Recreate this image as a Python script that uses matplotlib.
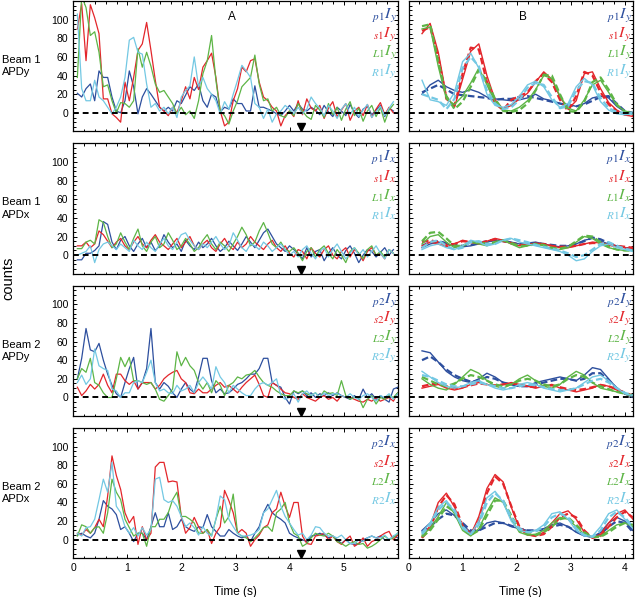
import numpy as np
import matplotlib
matplotlib.use("Agg")
import matplotlib.pyplot as plt
from matplotlib.ticker import MultipleLocator

plt.rcParams['font.family'] = ['Liberation Sans', 'DejaVu Sans']
plt.rcParams['mathtext.fontset'] = 'stix'

########### DATA
row_names = ["Beam 1\nAPDy", "Beam 1\nAPDx", "Beam 2\nAPDy", "Beam 2\nAPDx"]
legend_names = [
    [r"$_{p1}I_y$", r"$_{s1}I_y$", r"$_{L1}I_y$", r"$_{R1}I_y$"],
    [r"$_{p1}I_x$", r"$_{s1}I_x$", r"$_{L1}I_x$", r"$_{R1}I_x$"],
    [r"$_{p2}I_y$", r"$_{s2}I_y$", r"$_{L2}I_y$", r"$_{R2}I_y$"],
    [r"$_{p2}I_x$", r"$_{s2}I_x$", r"$_{L2}I_x$", r"$_{R2}I_x$"],
]
marker_time = 4.2
a_ticks = [0, 1, 2, 3, 4, 5]
b_ticks = [0, 1, 2, 3, 4]
y_ticks = [0, 20, 40, 60, 80, 100]

# panel A, raw traces (one sample every 0.08 s)
a_t0 = 0.075
a_dt = 0.08

a1_blue = [21, 17, 26, 31, 13, 45, 38, 38, 17, 2, 0, 13, 45, 28, -1, 17, 26, 20, 13, 6, 2, 6, 2, 13, 10,
           19, 28, 24, 31, 13, 6, 20, 17, 1, 6, 4, 15, 10, 10, 2, 2, 29, 6, 6, 4, 2, -1, -3, 2, 8, 2, 10,
           4, 2, 6, 3, -2, 8, 1, -4, 6, 2, -3, 9, 0, -5, 4, 7, -2, 3, 8, -4, 5, 2]
a1_red = [90, 117, 56, 116, 102, 85, 15, 15, -1, -5, -10, 33, 13, 38, 67, 74, 97, 67, 35, 6, 2, -3, 6, 0,
          13, 28, 15, 38, 25, 49, 56, 64, 38, 2, -14, -10, 13, 26, 49, 44, 56, 58, 33, 17, 13, 6, 2, -14,
          -3, 2, -4, 13, -2, 15, 5, 2, 8, -6, 5, 12, -4, 3, 10, -8, 2, 6, -3, 9, -5, 4, 11, -2, 6, 0]
a1_green = [38, 125, 113, 83, 87, 65, 28, 30, 13, 0, 11, 10, 6, 13, 69, 49, 65, 50, 31, 22, 24, 17, 10, -1,
            6, -2, 2, -6, 13, 42, 56, 83, 35, 2, -3, -12, 2, 13, 28, 33, 38, 62, 31, 13, 15, 2, 6, -3, -5,
            2, -3, 10, 2, -4, -7, 8, 3, -5, 10, -2, 6, -8, 4, 12, -3, 5, -9, 2, 8, -4, 6, -10, 3, 9]
a1_cyan = [106, 26, 13, 13, 35, 17, 13, 6, -1, 6, 17, 38, 78, 81, 65, 63, 31, 6, 10, 2, 6, -1, 6, -5, 17,
           24, 29, 60, 28, 38, 26, 20, 13, -1, 12, 4, 20, 35, 51, 45, 38, 10, 6, -6, 4, -10, -1, 2, 8, 4,
           -1, 6, -1, 4, 17, 10, 5, -3, 8, 2, -6, 4, 10, -2, 6, -4, 3, 9, -5, 1, 7, -3, 5, 12]

a2_blue = [-5, -5, 2, 2, 5, 10, 36, 33, 14, 6, 16, 20, 10, 4, 12, 18, 8, 14, 5, 10, 22, 14, 8, 12, 4, 16,
           10, 6, 14, 8, 12, 18, 10, 4, 8, 15, 10, 5, 12, 20, 14, 8, 16, 24, 28, 20, 12, 8, 4, 10, 6, 2,
           -4, 8, -2, 4, 6, -6, 2, 8, 0, -4, 5, 10, 2, -8, 0, 6, 4, -2, 3, 8, 0, 6]
a2_red = [10, 10, 14, 8, 12, 26, 22, 15, 8, 14, 18, 10, 6, 14, 20, 12, 8, 16, 22, 14, 10, 6, 12, 18, 8, 14,
          20, 10, 6, 12, 16, 8, 4, 12, 18, 10, 6, 14, 8, 12, 20, 14, 10, 6, 12, 16, 8, 4, 10, 2, -2, 6, 4,
          -4, 8, 2, -2, 6, 10, 0, -4, 4, 8, -2, 6, 2, -6, 4, 8, 0, 2, -4, 6, 2]
a2_green = [7, 7, 14, 16, 12, 38, 35, 20, 8, 12, 24, 14, 6, 18, 28, 10, 4, 14, 20, 8, 12, 24, 16, 6, 10, 18,
            12, 4, 8, 16, 22, 12, 6, 14, 10, 4, 12, 20, 30, 22, 10, 14, 26, 35, 24, 12, 8, 14, 6, 4, 8, 2,
            -6, 4, 8, -2, 6, 10, 2, -4, 6, 0, -8, 4, 8, 2, -4, 6, 10, 0, 4, -2, 6, 2]
a2_cyan = [0, 2, 4, 10, -8, 6, 12, 14, 10, 6, 12, 8, 4, 16, 10, 6, 14, 8, 4, 12, 18, 10, 6, 14, 22, 24, 16,
           10, 6, 12, 8, 14, 20, 12, 6, 10, 24, 16, 8, 4, 12, 10, 6, 14, 10, 4, 8, 12, 6, 0, 4, -2, 6, 10,
           2, -4, 4, 8, -2, 6, 12, 4, -4, 2, 8, 0, 6, -2, 4, 10, 2, -4, 6, 2]

a3_blue = [20, 42, 74, 51, 49, 58, 40, 25, 13, 4, 0, 16, 31, 43, 9, 16, 31, 74, 16, 9, 16, 12, 5, 0, 9, 16,
           9, 5, 22, 42, 42, 18, 5, 9, 4, 5, 9, 14, 16, 20, 25, 25, 31, 42, 42, 16, 13, 11, 0, -7, 7, 4, 7,
           2, 5, 0, 4, 2, 5, 2, 5, 2, 0, -2, 2, -2, 9, 0, 4, -2, 2, -2, -5, 9, 11]
a3_red = [11, 2, 7, 14, 9, 14, 25, 13, 5, 25, 25, 18, 14, 18, 9, 16, 16, 16, 9, 13, 20, 24, 27, 29, 20, 16,
          5, 4, 9, 5, 5, 9, 13, 16, 11, 13, 9, 5, 11, 16, 20, 24, 14, 2, 0, 16, 13, 9, 5, 4, 0, -2, 4, 0,
          -2, -4, 0, 2, -2, 0, -4, 2, 0, 0, -2, -4, -5, -2, -4, 0, -4, -2, 0, -4, 5]
a3_green = [20, 31, 27, 42, 16, 13, 5, 0, 0, 20, 43, 33, 43, 18, 18, 16, 14, 16, 9, -2, -4, 2, 9, 49, 34,
            43, 34, 29, 16, 9, 16, 5, 18, 13, 2, 13, 16, 22, 20, 24, 25, 29, 22, 16, 13, 11, 7, 4, 2, 2, 7,
            5, 7, 4, 2, 5, 0, 7, 4, 5, 2, 18, 2, -2, 0, 0, -11, -2, 2, -7, 0, -2, 2, 0, 5]
a3_cyan = [16, 24, 14, 20, 52, 34, 31, 29, 9, 7, 0, 5, 5, 16, 18, 16, 27, 40, 16, 7, 9, 5, 4, 13, 7, 9, 13,
           5, 16, 22, 16, 9, 33, 22, 16, 5, 13, 9, 5, 2, 2, 9, 14, 16, 13, 16, 20, 2, -2, 0, 4, -5, 4, 7, 2,
           5, 0, 5, 2, 4, 4, 2, 0, 4, 0, -2, 2, 4, 0, -4, 2, 0, 4, -2, 4]

a4_blue = [5, 7, 4, 2, 7, 22, 42, 36, 33, 27, 11, 14, 7, -2, 7, 7, 0, 14, 29, 14, 14, 29, 11, 14, 22, 14,
           11, 9, 14, 13, 27, 14, 9, 4, 4, 11, 7, 4, 2, 4, -2, 7, 14, 29, 38, 29, 25, 22, 18, 7, 4, 2, 0,
           -2, 4, 5, 7, 5, 2, 4, 0, -4, 0, -4, -5, -4, 0, 2, 4, 2, 4, 0, 0, 4, 2]
a4_red = [7, 5, 11, 7, 13, 22, 14, 47, 90, 69, 54, 29, 18, 25, -5, 14, 0, 7, 78, 83, 83, 62, 63, 62, 25, 7,
          13, 24, 14, 7, 11, -4, 7, 14, 53, 42, 29, 7, 11, 7, -7, 0, 5, 13, 16, 29, 33, 51, 36, 24, 40, 40,
          4, -4, -5, 4, 5, 7, 0, 4, -2, -5, 0, 4, -7, -4, 2, -7, -2, 0, 4, 7, 9, 0, 5]
a4_green = [4, 16, 14, 7, 13, 14, 7, 29, 65, 51, 43, 22, 13, 4, 7, 7, -7, 14, 14, 22, 22, 29, 43, 51, 25,
            25, 22, 18, 7, 7, 11, 4, 22, 36, 18, 25, 49, 7, 4, 2, -2, 2, 7, 13, 14, 9, 29, 33, 40, 18, 7, 4,
            -7, -4, 2, 7, 5, 4, 7, 4, -2, -4, -7, -4, -2, -5, -4, -9, -7, -4, 0, 4, 0, 2, 7]
a4_cyan = [7, 4, 13, 14, 22, 43, 65, 51, 83, 36, 29, 14, 7, 13, 4, 13, 5, 11, 65, 67, 43, 40, 42, 36, 25, 14,
           18, 13, 5, 14, 7, 4, 22, 47, 43, 22, 14, 7, 4, 4, 5, 7, 11, 29, 33, 43, 53, 36, 25, 18, 11, 5, 7,
           0, 5, 14, 13, 7, 4, 4, 2, 5, 0, -4, -4, 0, -2, 2, 4, 2, 2, 5, 0, 4, 7]

# panel B, fitted curves (solid) and model (dashed), one value every 0.15 s
b_t0 = 0.25
b_dt = 0.15

b1_blue = [20, 30, 35, 28, 24, 22, 25, 22, 17, 15, 14, 13, 14, 16, 20, 15, 13, 10, 9, 7, 10, 16, 18, 16, 7, 1, -1]
b1_blue_d = [22, 26, 30, 25, 20, 19, 18, 17, 16, 14, 15, 15, 17, 18, 16, 14, 12, 10, 8, 7, 9, 13, 17, 18, 10, 2, 0]
b1_red = [85, 96, 65, 18, 6, 36, 66, 74, 40, 14, 4, 8, 15, 21, 33, 44, 36, 17, 4, 13, 42, 44, 26, 11, 3, -2, -4]
b1_red_d = [88, 92, 60, 15, 8, 42, 70, 68, 33, 10, 3, 14, 18, 22, 34, 42, 33, 14, 2, 18, 44, 40, 22, 9, 2, -2, -3]
b1_green = [90, 92, 50, 15, 9, 18, 32, 48, 30, 12, 3, 2, 6, 13, 25, 40, 37, 18, 5, 2, 14, 30, 35, 22, 8, 2, 0]
b1_green_d = [93, 95, 55, 18, 4, 12, 28, 46, 34, 15, 2, 1, 3, 10, 24, 41, 40, 20, 2, 1, 12, 33, 38, 25, 9, 1, -1]
b1_cyan = [35, 14, 12, 8, 22, 55, 64, 48, 20, 8, 6, 9, 18, 30, 34, 28, 14, 6, 10, 28, 37, 30, 12, 3, -1, -2, -1]
b1_cyan_d = [20, 17, 14, 4, 15, 48, 60, 50, 24, 10, 4, 6, 14, 27, 32, 30, 17, 5, 7, 24, 34, 32, 16, 5, 1, 0, 0]

b2_blue = [8, 12, 14, 12, 10, 9, 10, 12, 14, 16, 16, 14, 12, 13, 14, 12, 10, 9, 10, 12, 16, 18, 15, 12, 10, 8, 6]
b2_blue_d = [10, 14, 15, 13, 11, 10, 11, 13, 15, 16, 15, 13, 12, 12, 13, 12, 11, 10, 10, 12, 15, 19, 17, 13, 10, 8, 6]
b2_red = [10, 14, 12, 9, 12, 16, 14, 12, 15, 18, 16, 12, 10, 11, 13, 12, 10, 8, 8, 10, 12, 14, 13, 11, 9, 8, 7]
b2_red_d = [14, 16, 14, 11, 12, 15, 14, 13, 15, 17, 15, 13, 11, 11, 12, 12, 10, 9, 9, 10, 12, 13, 13, 11, 10, 9, 8]
b2_green = [12, 20, 22, 14, 8, 10, 14, 12, 10, 14, 16, 12, 8, 10, 12, 10, 7, 6, 8, 14, 20, 18, 12, 8, 6, 5, 5]
b2_green_d = [15, 24, 25, 18, 10, 10, 14, 14, 12, 14, 16, 13, 10, 10, 12, 11, 8, 7, 9, 15, 21, 20, 14, 9, 6, 5, 5]
b2_cyan = [6, 10, 12, 8, 6, 10, 16, 14, 10, 12, 16, 18, 14, 12, 10, 8, 6, 4, 0, -6, -4, 4, 10, 12, 8, 6, 4]
b2_cyan_d = [8, 14, 16, 10, 6, 8, 14, 15, 12, 12, 16, 18, 16, 14, 11, 9, 7, 5, 2, -2, 0, 6, 12, 14, 10, 7, 5]

b3_blue = [50, 48, 38, 28, 22, 18, 16, 20, 26, 22, 16, 14, 12, 12, 16, 18, 20, 22, 20, 18, 24, 32, 30, 20, 10, 4, 0]
b3_blue_d = [40, 44, 38, 30, 24, 20, 17, 18, 22, 20, 16, 14, 12, 12, 14, 16, 18, 20, 20, 18, 20, 26, 26, 18, 10, 4, 1]
b3_red = [10, 12, 14, 10, 8, 10, 14, 16, 14, 12, 14, 16, 14, 12, 10, 12, 14, 10, 8, 6, 8, 10, 14, 12, 8, 4, 2]
b3_red_d = [12, 14, 15, 12, 10, 11, 13, 15, 14, 13, 14, 15, 14, 12, 11, 12, 13, 11, 9, 8, 9, 11, 13, 12, 9, 5, 2]
b3_green = [20, 14, 10, 8, 14, 22, 30, 26, 18, 12, 10, 14, 20, 24, 18, 12, 10, 14, 22, 28, 24, 16, 10, 8, 6, 4, 2]
b3_green_d = [22, 18, 14, 12, 15, 20, 24, 22, 18, 14, 12, 14, 18, 20, 18, 14, 12, 14, 20, 24, 22, 16, 12, 9, 6, 4, 2]
b3_cyan = [28, 22, 16, 12, 10, 12, 16, 18, 14, 10, 8, 10, 14, 16, 14, 10, 8, 6, 8, 10, 16, 22, 24, 18, 10, 4, 2]
b3_cyan_d = [24, 22, 18, 14, 12, 12, 14, 16, 14, 12, 10, 10, 12, 14, 13, 11, 9, 8, 8, 10, 14, 18, 20, 16, 10, 5, 2]

b4_blue = [10, 18, 28, 32, 26, 16, 8, 10, 18, 20, 18, 14, 12, 10, 10, 12, 16, 18, 14, 8, 4, 3, 8, 18, 24, 20, 10]
b4_blue_d = [8, 14, 22, 28, 26, 18, 10, 10, 14, 18, 18, 15, 12, 10, 10, 11, 14, 16, 14, 9, 5, 3, 6, 14, 20, 18, 8]
b4_red = [3, 15, 40, 50, 35, 12, 5, 25, 55, 70, 62, 35, 12, 5, 4, 8, 18, 28, 31, 22, 8, 2, 6, 18, 28, 32, 22]
b4_red_d = [2, 12, 35, 48, 38, 15, 6, 20, 50, 68, 60, 36, 14, 6, 4, 6, 14, 24, 28, 24, 10, 2, 4, 14, 24, 30, 24]
b4_green = [5, 12, 25, 40, 28, 10, 4, 12, 30, 45, 40, 22, 8, 5, 6, 10, 18, 24, 22, 14, 6, 3, 4, 10, 16, 18, 14]
b4_green_d = [3, 10, 22, 36, 30, 12, 5, 10, 26, 42, 42, 26, 10, 6, 5, 8, 14, 22, 24, 16, 8, 3, 3, 8, 14, 18, 16]
b4_cyan = [8, 18, 35, 42, 30, 12, 6, 20, 45, 52, 40, 20, 10, 8, 10, 16, 28, 30, 22, 10, 4, 4, 14, 28, 32, 22, 12]
b4_cyan_d = [6, 16, 32, 40, 32, 14, 6, 16, 40, 50, 42, 24, 12, 8, 9, 14, 24, 28, 24, 12, 5, 3, 10, 24, 30, 24, 14]

a_rows = [
    [a1_blue, a1_red, a1_green, a1_cyan],
    [a2_blue, a2_red, a2_green, a2_cyan],
    [a3_blue, a3_red, a3_green, a3_cyan],
    [a4_blue, a4_red, a4_green, a4_cyan],
]
b_rows = [
    [(b1_blue, b1_blue_d), (b1_red, b1_red_d), (b1_green, b1_green_d), (b1_cyan, b1_cyan_d)],
    [(b2_blue, b2_blue_d), (b2_red, b2_red_d), (b2_green, b2_green_d), (b2_cyan, b2_cyan_d)],
    [(b3_blue, b3_blue_d), (b3_red, b3_red_d), (b3_green, b3_green_d), (b3_cyan, b3_cyan_d)],
    [(b4_blue, b4_blue_d), (b4_red, b4_red_d), (b4_green, b4_green_d), (b4_cyan, b4_cyan_d)],
]

colors = ['#2d4f9e', '#e3262b', '#5db546', '#73c8e3']
legend_y = [104, 84, 64, 44]


def style_axis(ax, xmax, xticks, ylabels):
    ax.set_ylim(-20, 120)
    ax.set_xlim(0, xmax)
    ax.set_xticks(xticks)
    ax.xaxis.set_minor_locator(MultipleLocator(0.2))
    ax.set_yticks(y_ticks)
    ax.yaxis.set_minor_locator(MultipleLocator(5))
    ax.tick_params(which='both', direction='in', top=True, right=True, labelsize=7.5, width=0.7)
    ax.tick_params(which='major', length=3)
    ax.tick_params(which='minor', length=1.8)
    if not ylabels:
        ax.set_yticklabels([])
    for s in ax.spines.values():
        s.set_linewidth(0.9)
    ax.axhline(0, color='k', lw=1.4, ls=(0, (3, 2)), zorder=5)


def add_legend(ax, names, xpos):
    for name, c, y in zip(names, colors, legend_y):
        ax.text(xpos, y, name, color=c, fontsize=11.5, ha='right', va='center')


### FIGURE
fig = plt.figure(figsize=(6.38, 5.97), dpi=100)
W, H = 638.0, 597.0
row_h = 130.5
row_step = 142.3

for r in range(4):
    top = 1 + row_step * r
    bottom = 1 - (top + row_h) / H
    axA = fig.add_axes([73.3 / W, bottom, (398 - 73.3) / W, row_h / H])
    axB = fig.add_axes([408.5 / W, bottom, (633 - 408.5) / W, row_h / H])

    for vals, c in zip(a_rows[r], colors):
        t = a_t0 + a_dt * np.arange(len(vals))
        axA.plot(t, vals, color=c, lw=0.9)
    for (solid, dashed), c in zip(b_rows[r], colors):
        t = b_t0 + b_dt * np.arange(len(solid))
        axB.plot(t, solid, color=c, lw=1.0)
        t = b_t0 + b_dt * np.arange(len(dashed))
        axB.plot(t, dashed, color=c, lw=1.6, ls=(0, (3, 1.5)))

    style_axis(axA, 6.0, a_ticks, True)
    style_axis(axB, 4.15, b_ticks, False)
    axA.plot([marker_time], [-15.5], marker='v', color='k', ms=5.5, ls='none', zorder=6)
    add_legend(axA, legend_names[r], 5.97)
    add_legend(axB, legend_names[r], 4.12)

    if r < 3:
        axA.set_xticklabels([])
        axB.set_xticklabels([])
    else:
        axA.set_xlabel('Time (s)', fontsize=8.5, labelpad=9)
        axB.set_xlabel('Time (s)', fontsize=8.5, labelpad=9)
    if r == 0:
        axA.text(0.49, 0.875, 'A', transform=axA.transAxes, fontsize=8.5, ha='center', va='center')
        axB.text(0.51, 0.875, 'B', transform=axB.transAxes, fontsize=8.5, ha='center', va='center')

    fig.text(2 / W, 1 - (top + row_h / 2) / H, row_names[r], fontsize=8, ha='left', va='center',
             linespacing=1.3)

fig.text(8 / W, 1 - 278 / H, 'counts', fontsize=10.5, rotation=90, ha='center', va='center')

plt.savefig('out.png', dpi=100)
